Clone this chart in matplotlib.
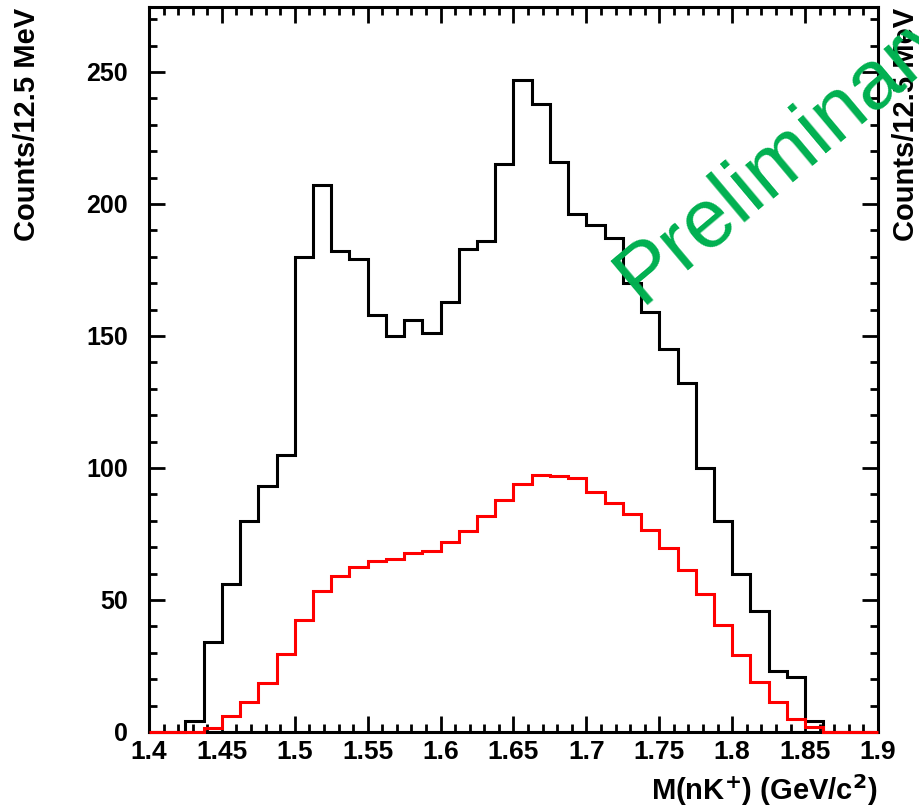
import numpy as np
import matplotlib
matplotlib.use("Agg")
import matplotlib.pyplot as plt
from matplotlib.ticker import MultipleLocator, FormatStrFormatter

plt.rcParams["font.family"] = ["Liberation Sans", "DejaVu Sans"]

# nK+ invariant mass, 12.5 MeV bins from 1.4 to 1.9 GeV
m_lo, m_hi, bin_w = 1.4, 1.9, 0.0125
data_counts = [0, 0, 4, 34, 56, 80, 93, 105, 180, 207,
               182, 179, 158, 150, 156, 151, 163, 183, 186, 215,
               247, 238, 216, 196, 192, 187, 170, 159, 145, 132,
               100, 80, 60, 46, 23, 21, 4, 0, 0, 0]
bkg_counts = [0, 0, 0, 1.5, 6.1, 11.2, 18.7, 29.4, 42.4, 53.5,
              59.1, 62.4, 64.8, 65.7, 67.7, 68.7, 72.1, 76.1, 81.8, 87.9,
              93.8, 97.3, 97.0, 96.1, 91.0, 86.9, 82.4, 76.5, 69.6, 61.4,
              52.3, 40.5, 29.2, 19.1, 11.2, 4.9, 2.0, 0, 0, 0]

x_ticks = [1.4, 1.45, 1.5, 1.55, 1.6, 1.65, 1.7, 1.75, 1.8, 1.85, 1.9]
y_ticks = [0, 50, 100, 150, 200, 250]


def main():
    edges = np.linspace(m_lo, m_hi, len(data_counts) + 1)

    fig = plt.figure(figsize=(9.19, 8.09), dpi=100)
    ax = fig.add_axes([0.1621, 0.0952, 0.7933, 0.8962])

    ax.stairs(data_counts, edges, color="black", linewidth=2.2,
              zorder=3, clip_on=False)
    ax.stairs(bkg_counts, edges, color="#ff0000", linewidth=2.2,
              zorder=4, clip_on=False)

    ax.set_xlim(m_lo, m_hi)
    ax.set_ylim(0, 274.6)

    ax.set_xticks(x_ticks)
    ax.set_xticklabels([f"{v:g}" for v in x_ticks])
    ax.set_yticks(y_ticks)
    ax.xaxis.set_minor_locator(MultipleLocator(0.01))
    ax.yaxis.set_minor_locator(MultipleLocator(10))
    ax.yaxis.set_major_formatter(FormatStrFormatter("%d"))

    ax.tick_params(which="both", direction="in", top=True, right=True,
                   width=2.0, color="black")
    ax.tick_params(which="major", length=11.5)
    ax.tick_params(which="minor", length=5.8)
    ax.tick_params(axis="y", which="major", labelsize=18, pad=15)
    ax.tick_params(axis="x", which="major", labelsize=19, pad=6)
    for lab in ax.get_xticklabels() + ax.get_yticklabels():
        lab.set_fontweight("bold")

    for sp in ax.spines.values():
        sp.set_linewidth(2.2)

    # axis titles (the y title is repeated on the right edge)
    ylab = "Counts/12.5 MeV"
    fig.text(27 / 919, 0.99, ylab, rotation=90, ha="center", va="top",
             fontsize=21, fontweight="bold")
    fig.text(906 / 919, 0.99, ylab, rotation=90, ha="center", va="top",
             fontsize=21, fontweight="bold")
    fig.text(878 / 919, 0.011, r"M(nK$^{\mathbf{+}}$) (GeV/c$^{\mathbf{2}}$)",
             ha="right", va="baseline", fontsize=21, fontweight="bold")

    fig.text(640 / 919, 1 - 305 / 809, "Preliminary", color="#00b050",
             fontsize=60, rotation=40, rotation_mode="anchor",
             ha="left", va="baseline", zorder=10)

    fig.savefig("out.png", dpi=100)


if __name__ == "__main__":
    main()
